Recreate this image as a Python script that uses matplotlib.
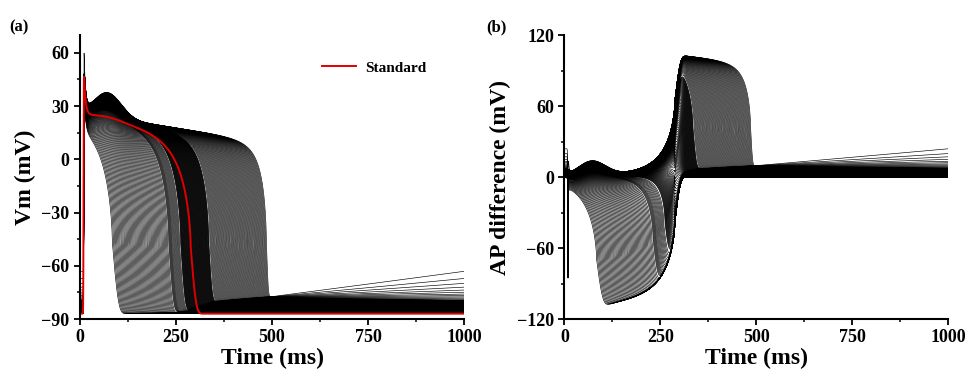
import numpy as np
import matplotlib.pyplot as plt
from matplotlib.ticker import MultipleLocator

plt.rcParams['font.family'] = ['Liberation Serif', 'DejaVu Serif']
plt.rcParams['font.weight'] = 'bold'
plt.rcParams['axes.labelweight'] = 'bold'

# time axis (ms)
t = np.arange(0, 1000.01, 0.25)

# standard AP (red curve): repolarisation time, slopes, dome, upstroke
std_R = 288
std_k = 18
std_k2 = 14
std_dome = 1.5
std_up = 9.0
std_spike = 32

# family of APs, read as groups of repolarisation times (ms)
seg_R_start = [84, 231, 241, 262, 338]
seg_R_end = [228, 239, 259, 335, 485]
seg_count = [52, 6, 10, 90, 68]
# resting level above -87 mV after repolarisation
seg_rest_start = [0, 1, 1, 2, 7]
seg_rest_end = [0.5, 1, 2, 7, 10]
# extra drift of the longest traces at 1000 ms (mV)
drift_top = [16, 12, 9.3, 7.2, 5.6, 4.4, 3.4, 2.6, 1.9, 1.3, 0.8, 0.4]

R_min, R_max = 84, 485


def ap_trace(R, k, k2, dome, a, b, t_up, spike, v0=None):
    base = 26 - 0.033 * t + dome * np.exp(-((t - 72) / 50) ** 2)
    rest = -87 + a * np.exp(-np.clip(t - 400, 0, None) / 2500) + b * np.clip(t - 500, 0, None) / 500
    if v0 is None:
        v0 = rest[-1]
    sp = spike * np.exp(-np.clip(t - t_up, 0, None) / 4.0)
    u = 1 / (1 + np.exp(-(t - t_up) / 0.3))
    vdep = v0 + u * (base + sp - v0)
    d = t - R
    x = np.where(d < 0, -(np.abs(d) / k) ** 0.6, d / k2)
    S = np.exp(-np.exp(np.minimum(x, 50)))
    return rest + (vdep - rest) * S


standard = ap_trace(std_R, std_k, std_k2, std_dome, 0, 0, std_up, std_spike, v0=-87)

R_all = np.concatenate([np.linspace(s, e, n) for s, e, n in zip(seg_R_start, seg_R_end, seg_count)])
a_all = np.concatenate([np.linspace(s, e, n) for s, e, n in zip(seg_rest_start, seg_rest_end, seg_count)])
b_all = np.zeros(len(R_all))
b_all[-len(drift_top):] = drift_top[::-1]

traces = []
for i, (R, a, b) in enumerate(zip(R_all, a_all, b_all)):
    f = (R - R_min) / (R_max - R_min)
    spike = 55 if i == 20 else 30
    v = ap_trace(R, 17 - 8.6 * f, 16 - 11 * f, 14 * f, a, b, 9.2 + 0.8 * f, spike)
    traces.append(v)

fig = plt.figure(figsize=(9.69, 3.75), dpi=100)
ax1 = fig.add_axes([0.0826, 0.1493, 0.3963, 0.7573])
ax2 = fig.add_axes([0.5824, 0.1493, 0.3963, 0.7573])

for v in traces:
    ax1.plot(t, v, color='black', lw=0.45)
    ax2.plot(t, v - standard, color='black', lw=0.45)
ax1.plot(t, standard, color='#e00000', lw=1.4, label='Standard')

ax1.set_xlim(0, 1000)
ax1.set_ylim(-90, 70)
ax1.yaxis.set_major_locator(MultipleLocator(30))
ax1.yaxis.set_minor_locator(MultipleLocator(15))
ax1.set_ylabel('Vm (mV)', fontsize=17)

ax2.set_xlim(0, 1000)
ax2.set_ylim(-120, 120)
ax2.yaxis.set_major_locator(MultipleLocator(60))
ax2.yaxis.set_minor_locator(MultipleLocator(30))
ax2.set_ylabel('AP difference (mV)', fontsize=17)

for ax in (ax1, ax2):
    ax.xaxis.set_major_locator(MultipleLocator(250))
    ax.xaxis.set_minor_locator(MultipleLocator(125))
    ax.set_xlabel('Time (ms)', fontsize=17, labelpad=1)
    ax.spines['top'].set_visible(False)
    ax.spines['right'].set_visible(False)
    ax.spines['left'].set_linewidth(1.5)
    ax.spines['bottom'].set_linewidth(1.5)
    ax.tick_params(which='major', direction='out', length=4, width=1.3, labelsize=13)
    ax.tick_params(which='minor', direction='out', length=2.5, width=1.1)

ax1.legend(loc='center left', bbox_to_anchor=(0.63, 0.884), frameon=False,
           borderaxespad=0, borderpad=0, handlelength=2.2, handletextpad=0.6,
           prop={'size': 11, 'weight': 'bold'})

fig.text(0.010, 0.928, '(a)', fontsize=12, fontweight='bold', va='center')
fig.text(0.502, 0.928, '(b)', fontsize=12, fontweight='bold', va='center')

fig.savefig('out.png', dpi=100)
